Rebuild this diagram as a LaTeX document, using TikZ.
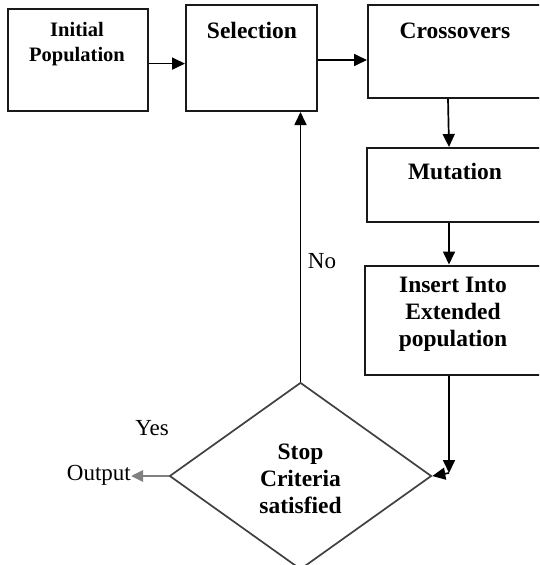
\documentclass[tikz,border=0pt]{standalone}
\usepackage{fontspec}
\setmainfont{Liberation Serif}
\usetikzlibrary{shapes.geometric,arrows.meta}
\begin{document}
\begin{tikzpicture}[x=1pt,y=-1pt,
  box/.style={draw=black!90,line width=2pt,rectangle,inner sep=0pt},
  btxt/.style={font=\fontsize{23.5}{27}\selectfont\bfseries,align=center,anchor=base,inner sep=0pt},
  rtxt/.style={font=\fontsize{23}{27}\selectfont,anchor=base,inner sep=0pt},
  arr/.style={line width=1.7pt,-{Triangle[length=13pt,width=12pt]}},
  ]
\useasboundingbox (0,0) rectangle (539,565);
\clip (0,0) rectangle (539,565);
% boxes
\node[box,minimum width=140.5pt,minimum height=102.5pt] (init) at (78,60) {};
\node[box,minimum width=131pt,minimum height=106pt] (sel) at (251.5,58) {};
\node[box,minimum width=177pt,minimum height=92.5pt] (cross) at (456.5,51.3) {};
\node[box,minimum width=178pt,minimum height=74pt] (mut) at (456,185) {};
\node[box,minimum width=180pt,minimum height=109pt] (ins) at (455,320) {};
\node[draw=black!75,line width=1.7pt,diamond,minimum width=262pt,minimum height=187pt,inner sep=0pt] (dia) at (300.5,476) {};
% texts
\node[btxt,font=\fontsize{20.5}{25}\selectfont\bfseries] (tinit) at (77,61.7) {Initial\\Population};
\node[btxt] (tsel) at (252,38.5) {Selection};
\node[btxt] (tcross) at (455,38.5) {Crossovers};
\node[btxt] (tmut) at (455,179.5) {Mutation};
\node[btxt] (tins) at (453,346.7) {Insert Into\\Extended\\population};
\node[btxt] (tdia) at (300.5,513.6) {Stop\\Criteria\\satisfied};
\node[rtxt] (no) at (322,268) {No};
\node[rtxt] (yes) at (152,435.6) {Yes};
\node[rtxt,anchor=base east] (out) at (131,480) {Output};
\coordinate (corner) at (449,473);
% connectors
\draw[arr] ([yshift=-3.6pt]init.east) -- ([yshift=-3.6pt]init.east -| sel.west);
\draw[arr] ([yshift=-2pt]sel.east) -- ([yshift=-2pt]sel.east -| cross.west);
\draw[arr] (cross.south -| 448,0) -- (mut.north -| 449,0);
\draw[arr] (mut.south -| 449,0) -- (ins.north -| 449,0);
\draw[arr] (ins.south -| corner) -- (corner);
\draw[arr] (corner) -- (dia.east);
\draw[arr] (dia.north) -- (sel.south -| dia.north);
\draw[line width=2.8pt,black!50,-{Triangle[length=12pt,width=11pt]},black!50] (dia.west) -- (out.east |- dia.west);
\end{tikzpicture}
\end{document}
